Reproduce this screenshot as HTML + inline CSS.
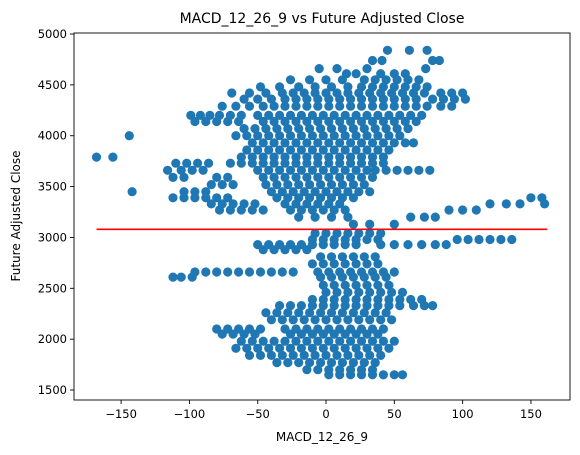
<!DOCTYPE html>
<html><head><meta charset="utf-8"><style>
html,body{margin:0;padding:0;background:#fff;}
svg{display:block;font-family:"DejaVu Sans","Liberation Sans",sans-serif;}
</style></head><body>
<svg id="chart" width="580" height="455" viewBox="0 0 580 455" xmlns="http://www.w3.org/2000/svg">
<rect x="0" y="0" width="580" height="455" fill="#fff"/>
<text x="322" y="23" font-size="14" text-anchor="middle" fill="#000">MACD_12_26_9 vs Future Adjusted Close</text>
<g id="points"></g>
<g id="axes"></g>
<text x="322" y="441" font-size="12" text-anchor="middle" fill="#000">MACD_12_26_9</text>
<text x="0" y="0" font-size="12" text-anchor="middle" fill="#000" transform="translate(20,216) rotate(-90)">Future Adjusted Close</text>
</svg>
<script>
const xTicks = [-150, -100, -50, 0, 50, 100, 150];
const yTicks = [1500, 2000, 2500, 3000, 3500, 4000, 4500, 5000];
const refLineY = 3080;
const refLineX = [-168, 162];
const rowY = [4840,4740,4660,4610,4550,4480,4420,4360,4290,4200,4140,4070,4000,3930,3860,3790,3730,3660,3590,3520,3450,3390,3330,3270,3200,3130,3040,2980,2930,2880,2810,2740,2660,2610,2530,2460,2390,2330,2260,2190,2100,2050,1980,1910,1840,1770,1700,1650];
const rowX = [
[45,61,74],
[34,41,78,83],
[-5,8,30,73],
[15,22,40,50,58],
[-26,-12,0,12,28,36,44,52,60,68],
[-48,-34,-20,-8,4,16,26,34,42,50,58,66,74],
[-69,-56,-44,-32,-24,-16,-8,0,8,16,24,32,40,48,56,64,72,84,92,100],
[-60,-50,-40,-30,-22,-14,-6,2,10,18,26,34,42,50,58,66,78,86,94,102],
[-76,-66,-56,-46,-38,-30,-22,-14,-6,2,10,18,26,34,42,50,58,66,74,84,92],
[-99,-92,-85,-78,-70,-62,-50,-42,-34,-26,-18,-10,-2,6,14,22,30,38,46,54,62,70],
[-96,-88,-80,-72,-64,-46,-38,-30,-22,-14,-6,2,10,18,26,34,42,50,58,66],
[-60,-52,-44,-36,-28,-20,-12,-4,4,12,20,28,36,44,52,60],
[-144,-66,-58,-50,-42,-34,-26,-18,-10,-2,6,14,22,30,38,46,54],
[-54,-46,-38,-30,-22,-14,-6,2,10,18,26,34,42,50,58,64],
[-58,-50,-42,-34,-26,-18,-10,-2,6,14,22,30,38,46],
[-168,-156,-62,-54,-46,-38,-30,-22,-14,-6,2,10,18,26,34,42],
[-110,-102,-94,-86,-70,-62,-54,-46,-38,-30,-22,-14,-6,2,10,18,26,34,42],
[-116,-106,-98,-90,-50,-42,-34,-26,-18,-10,-2,6,14,22,30,36,44,52,60,68,76],
[-112,-104,-80,-72,-46,-38,-30,-22,-14,-6,2,10,18,26,34],
[-84,-76,-68,-44,-36,-28,-20,-12,-4,4,12,20,28],
[-142,-104,-96,-88,-40,-32,-24,-16,-8,0,8,16,24,32],
[-112,-104,-96,-88,-80,-72,-36,-28,-20,-12,-4,4,12,20,150,158],
[-84,-76,-68,-60,-52,-30,-22,-14,-6,2,10,120,132,142,160],
[-78,-70,-62,-54,-46,-26,-18,-10,-2,6,14,90,100,110],
[-20,-8,4,16,62,72,80],
[20,32,50],
[-8,0,8,16,24,32,40],
[-10,-2,6,14,22,30,38,96,104,112,120,128,136],
[-50,-42,-34,-26,-18,-10,-2,6,14,22,40,50,60,70,80,88],
[-46,-38,-30,-22,-14],
[-4,4,12,20,28,36],
[-10,-2,6,14,22,30,38],
[-96,-88,-80,-72,-64,-56,-48,-40,-32,-24,-6,2,10,18,26,34,42,50],
[-112,-106,-98,-4,4,12,20,28,36,44],
[-2,6,14,22,30,38,46],
[0,8,16,24,32,40,48,56],
[-10,-2,6,14,22,30,38,46,54,62,70],
[-34,-26,-18,-10,-2,6,14,22,30,38,46,54,64,72,78],
[-44,-36,-28,-20,-12,-4,4,12,20,28,36,44],
[-40,-32,-24,-16,-8,0,8,16,24,32,40,48],
[-80,-72,-64,-56,-48,-30,-22,-14,-6,2,10,18,26,34,42],
[-76,-68,-60,-52,-26,-18,-10,-2,6,14,22,30,38],
[-62,-54,-46,-38,-30,-22,-14,-6,2,10,18,26,34,42,50],
[-66,-58,-50,-42,-34,-26,-18,-10,-2,6,14,22,30,38,46],
[-56,-48,-40,-32,-24,-16,-8,0,8,16,24,32,40],
[-36,-28,-20,-12,-4,4,12,20,28,36],
[-14,-6,2,10,18,26,34],
[2,10,18,26,34,42,50,56]
];

const NS = 'http://www.w3.org/2000/svg';
const L = 74, R = 570, T = 33, B = 400;
const xMin = -184.5, xMax = 178.6, yMin = 1402, yMax = 5010;
function sx(v){ return L + (v - xMin) / (xMax - xMin) * (R - L); }
function sy(v){ return B - (v - yMin) / (yMax - yMin) * (B - T); }

const pg = document.getElementById('points');
rowY.forEach(function(y, i){
  rowX[i].forEach(function(x){
    const c = document.createElementNS(NS, 'circle');
    c.setAttribute('cx', sx(x).toFixed(1));
    c.setAttribute('cy', sy(y).toFixed(1));
    c.setAttribute('r', '4.6');
    c.setAttribute('fill', '#1f77b4');
    
    
    pg.appendChild(c);
  });
});

const ax = document.getElementById('axes');
const line = document.createElementNS(NS, 'line');
line.setAttribute('x1', sx(refLineX[0])); line.setAttribute('x2', sx(refLineX[1]));
line.setAttribute('y1', sy(refLineY)); line.setAttribute('y2', sy(refLineY));
line.setAttribute('stroke', '#ff0000'); line.setAttribute('stroke-width', '1.6');


ax.appendChild(line);

const frame = document.createElementNS(NS, 'rect');
frame.setAttribute('x', L); frame.setAttribute('y', T);
frame.setAttribute('width', R - L); frame.setAttribute('height', B - T);
frame.setAttribute('fill', 'none'); frame.setAttribute('stroke', '#000'); frame.setAttribute('stroke-width', '0.9');


ax.appendChild(frame);

xTicks.forEach(function(t){
  const x = sx(t);
  const tk = document.createElementNS(NS, 'line');
  tk.setAttribute('x1', x); tk.setAttribute('x2', x); tk.setAttribute('y1', B); tk.setAttribute('y2', B + 4);
  tk.setAttribute('stroke', '#000'); tk.setAttribute('stroke-width', '0.9');
  
  
  ax.appendChild(tk);
  const tx = document.createElementNS(NS, 'text');
  tx.setAttribute('x', x); tx.setAttribute('y', B + 18);
  tx.setAttribute('font-size', '11.5'); tx.setAttribute('text-anchor', 'middle');
  tx.textContent = t < 0 ? '\u2212' + Math.abs(t) : String(t);
  
  
  ax.appendChild(tx);
});
yTicks.forEach(function(t){
  const y = sy(t);
  const tk = document.createElementNS(NS, 'line');
  tk.setAttribute('x1', L - 4); tk.setAttribute('x2', L); tk.setAttribute('y1', y); tk.setAttribute('y2', y);
  tk.setAttribute('stroke', '#000'); tk.setAttribute('stroke-width', '0.9');
  
  
  ax.appendChild(tk);
  const tx = document.createElementNS(NS, 'text');
  tx.setAttribute('x', L - 7); tx.setAttribute('y', y + 4);
  tx.setAttribute('font-size', '11.5'); tx.setAttribute('text-anchor', 'end');
  tx.textContent = String(t);
  
  
  ax.appendChild(tx);
});
</script>
</body></html>
